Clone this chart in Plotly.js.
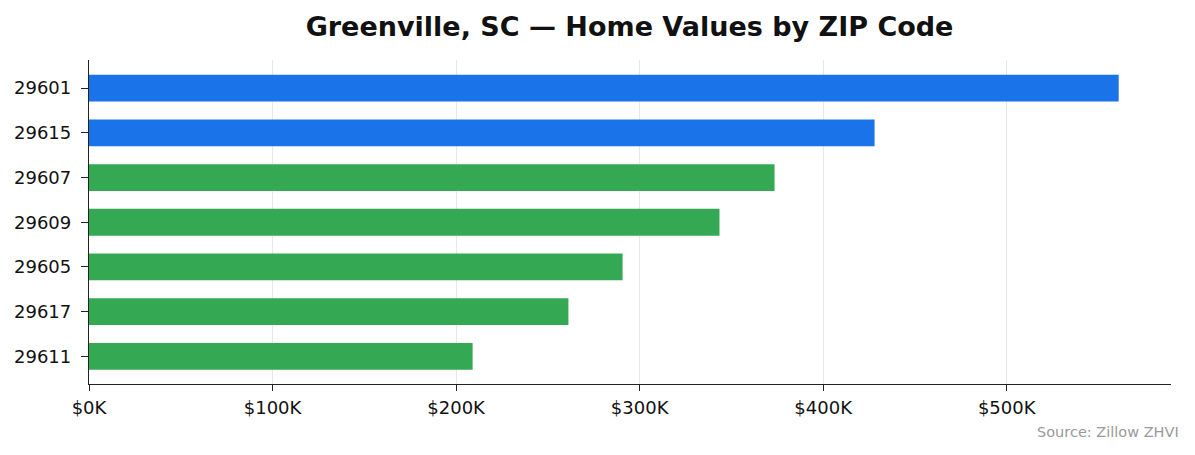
<!DOCTYPE html>
<html>
<head>
<meta charset="utf-8">
<script src="https://cdn.plot.ly/plotly-3.0.1.min.js"></script>
<style>
  html, body { margin: 0; padding: 0; background: #fff; }
  #chart { width: 1195px; height: 455px; }
</style>
</head>
<body>
<div id="chart"></div>
<script>
// ZIP codes, top to bottom
var zips = ["29601", "29615", "29607", "29609", "29605", "29617", "29611"];
var homeValues = [561000, 428000, 373500, 343500, 290700, 261200, 209000];
var barColors = ["#1a73e8", "#1a73e8", "#34a853", "#34a853", "#34a853", "#34a853", "#34a853"];
var tickVals = [0, 100000, 200000, 300000, 400000, 500000];
var tickText = ["$0K", "$100K", "$200K", "$300K", "$400K", "$500K"];

var bars = {
  type: "bar",
  orientation: "h",
  x: homeValues,
  y: zips,
  width: 0.6,
  marker: { color: barColors, line: { width: 0 } },
  hoverinfo: "x+y",
  showlegend: false
};

var layout = {
  width: 1195,
  height: 455,
  margin: { l: 89, r: 24, t: 60, b: 71 },
  paper_bgcolor: "#fff",
  plot_bgcolor: "#fff",
  font: { family: "DejaVu Sans", size: 18, color: "#111" },
  title: {
    text: "<b>Greenville, SC — Home Values by ZIP Code</b>",
    font: { family: "DejaVu Sans", size: 27, color: "#111" },
    x: 0.5268, xanchor: "center",
    y: 0.942, yanchor: "middle"
  },
  xaxis: {
    range: [0, 589500],
    tickvals: tickVals,
    ticktext: tickText,
    ticks: "outside",
    ticklen: 6,
    tickwidth: 1.2,
    tickcolor: "#222",
    ticklabelstandoff: 1,
    showline: true,
    linecolor: "#222",
    linewidth: 1.3,
    showgrid: true,
    gridcolor: "rgba(0,0,0,0.09)",
    gridwidth: 1.2,
    zeroline: false,
    fixedrange: true
  },
  yaxis: {
    type: "category",
    categoryorder: "array",
    categoryarray: zips,
    range: [6.62, -0.63],
    ticks: "outside",
    ticklen: 7,
    tickwidth: 1.2,
    tickcolor: "#222",
    ticklabelstandoff: 6,
    showline: true,
    linecolor: "#222",
    linewidth: 1.3,
    showgrid: false,
    zeroline: false,
    fixedrange: true
  },
  annotations: [{
    text: "Source: Zillow ZHVI",
    xref: "paper", yref: "paper",
    x: 1.0092, y: -0.147,
    xanchor: "right", yanchor: "middle",
    showarrow: false,
    font: { family: "DejaVu Sans", size: 14.5, color: "#999" }
  }]
};

Plotly.newPlot("chart", [bars], layout, { displayModeBar: false, responsive: false });
</script>
</body>
</html>
